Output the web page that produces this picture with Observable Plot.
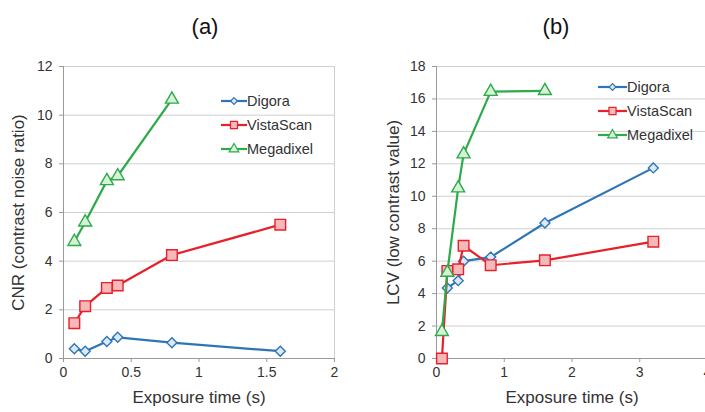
<!DOCTYPE html>
<html><head><meta charset="utf-8">
<script src="https://cdn.jsdelivr.net/npm/d3@7"></script>
<script src="https://cdn.jsdelivr.net/npm/@observablehq/plot@0.6"></script>
<style>
body{margin:0;overflow:hidden;background:#fff;font-family:"Liberation Sans",Arial,sans-serif;}
#wrap{position:relative;width:705px;height:412px;overflow:hidden;}
.panel{position:absolute;top:0;}
.title{position:absolute;top:14px;font-size:22px;color:#111;transform:translateX(-50%);}
.legend{position:absolute;top:0;left:0;}
</style></head><body><div id="wrap"></div>
<script>
// ---- data ----
const seriesNames = ["Digora", "VistaScan", "Megadixel"];
const seriesColors = ["#2E75B6", "#E8202A", "#2DAA4A"];
const seriesFills = ["#DCEAF8", "#F6B8B8", "#D6F1D6"];
const seriesSymbols = ["diamond2", "square", "triangle"];
const seriesSizes = [4.5, 6.0, 4.8];

// (a) CNR
const cnrDigoraX = [0.08, 0.16, 0.32, 0.4, 0.8, 1.6];
const cnrDigoraY = [0.4, 0.3, 0.7, 0.87, 0.65, 0.3];
const cnrVistaX = [0.08, 0.16, 0.32, 0.4, 0.8, 1.6];
const cnrVistaY = [1.45, 2.15, 2.9, 3.0, 4.25, 5.5];
const cnrMegaX = [0.08, 0.16, 0.32, 0.4, 0.8];
const cnrMegaY = [4.8, 5.6, 7.3, 7.5, 10.65];

// (b) LCV
const lcvDigoraX = [0.16, 0.32, 0.4, 0.8, 1.6, 3.2];
const lcvDigoraY = [4.35, 4.8, 6.0, 6.25, 8.35, 11.75];
const lcvVistaX = [0.08, 0.16, 0.32, 0.4, 0.8, 1.6, 3.2];
const lcvVistaY = [0.0, 5.4, 5.5, 6.95, 5.75, 6.05, 7.2];
const lcvMegaX = [0.08, 0.16, 0.32, 0.4, 0.8, 1.6];
const lcvMegaY = [1.65, 5.3, 10.5, 12.6, 16.45, 16.5];

const xTicksA = [0, 0.5, 1, 1.5, 2];
const yTicksA = [0, 2, 4, 6, 8, 10, 12];
const xTicksB = [0, 1, 2, 3, 4];
const yTicksB = [0, 2, 4, 6, 8, 10, 12, 14, 16, 18];

function rows(list) {
  const out = [];
  list.forEach(([xs, ys], i) => xs.forEach((x, j) => out.push({series: seriesNames[i], idx: i, x, y: ys[j]})));
  return out;
}
const dataA = rows([[cnrDigoraX, cnrDigoraY], [cnrVistaX, cnrVistaY], [cnrMegaX, cnrMegaY]]);
const dataB = rows([[lcvDigoraX, lcvDigoraY], [lcvVistaX, lcvVistaY], [lcvMegaX, lcvMegaY]]);

const FONT = '"Liberation Sans", Arial, sans-serif';

function panel({data, width, marginLeft, marginRight, xDomain, xTicks, yDomain, yTicks, xLabel, yLabel, yLabelDx}) {
  const marks = [
    Plot.gridY(yTicks, {stroke: "#d0d0d0", strokeOpacity: 1, strokeWidth: 1}),
    Plot.frame({stroke: "#d0d0d0", strokeWidth: 1}),
    Plot.ruleX([xDomain[0]], {stroke: "#9a9a9a"}),
    Plot.ruleY([yDomain[0]], {stroke: "#9a9a9a"}),
    Plot.axisX({ticks: xTicks, tickSize: 4, tickPadding: 5, fontSize: 14, label: null, stroke: "#9a9a9a", color: "#333", tickFormat: d => String(d)}),
    Plot.axisY({ticks: yTicks, tickSize: 4, tickPadding: 7, fontSize: 14, label: null, stroke: "#9a9a9a", color: "#333"}),
    Plot.text([xLabel], {frameAnchor: "bottom", dy: 39, fontSize: 17, fill: "#333", lineAnchor: "middle", textAnchor: "middle"}),
    Plot.text([yLabel], {frameAnchor: "left", dx: yLabelDx, rotate: -90, fontSize: 17, fill: "#333", lineAnchor: "middle", textAnchor: "middle"})
  ];
  seriesNames.forEach((name, i) => {
    const d = data.filter(r => r.idx === i);
    marks.push(Plot.line(d, {x: "x", y: "y", stroke: seriesColors[i], strokeWidth: 2.2}));
    marks.push(Plot.dot(d, {x: "x", y: "y", symbol: seriesSymbols[i], r: seriesSizes[i], fill: seriesFills[i], stroke: seriesColors[i], strokeWidth: 1.4}));
  });
  return Plot.plot({
    width, height: 412, marginLeft, marginRight, marginTop: 66, marginBottom: 54,
    style: {fontFamily: FONT, background: "transparent", overflow: "visible"},
    x: {domain: xDomain}, y: {domain: yDomain},
    marks
  });
}

const wrap = document.getElementById("wrap");

function place(el, left) { el.classList.add("panel"); el.style.left = left + "px"; wrap.appendChild(el); }

place(panel({data: dataA, width: 352, marginLeft: 63, marginRight: 18, xDomain: [0, 2], xTicks: xTicksA, yDomain: [0, 12], yTicks: yTicksA,
  xLabel: "Exposure time (s)", yLabel: "CNR (contrast noise ratio)", yLabelDx: -45}), 0);
place(panel({data: dataB, width: 360, marginLeft: 84, marginRight: 5, xDomain: [0, 4], xTicks: xTicksB, yDomain: [0, 18], yTicks: yTicksB,
  xLabel: "Exposure time (s)", yLabel: "LCV (low contrast value)", yLabelDx: -43}), 352);

// titles
[["(a)", 205], ["(b)", 556]].forEach(([t, x]) => {
  const d = document.createElement("div"); d.className = "title"; d.textContent = t; d.style.left = x + "px"; wrap.appendChild(d);
});

// legends
function legend(x0, x1, tx, ys) {
  const svg = d3.select(wrap).append("svg").attr("class", "legend").attr("width", 705).attr("height", 412);
  const symMap = {diamond2: d3.symbolDiamond2, square: d3.symbolSquare, triangle: d3.symbolTriangle};
  const legSizes = [30, 50, 40];
  seriesNames.forEach((name, i) => {
    const y = ys[i];
    svg.append("line").attr("x1", x0).attr("x2", x1).attr("y1", y).attr("y2", y).attr("stroke", seriesColors[i]).attr("stroke-width", 2.2);
    svg.append("path").attr("d", d3.symbol(symMap[seriesSymbols[i]], legSizes[i])()).attr("transform", `translate(${(x0 + x1) / 2},${y})`)
      .attr("fill", seriesFills[i]).attr("stroke", seriesColors[i]).attr("stroke-width", 1.2);
    svg.append("text").attr("x", tx).attr("y", y).attr("dy", "0.35em").attr("font-family", FONT).attr("font-size", 14.5).attr("fill", "#333").text(name);
  });
}
legend(221, 247, 247, [101, 125, 149]);
legend(598, 627, 627, [87, 111, 135]);
</script>
</body></html>
